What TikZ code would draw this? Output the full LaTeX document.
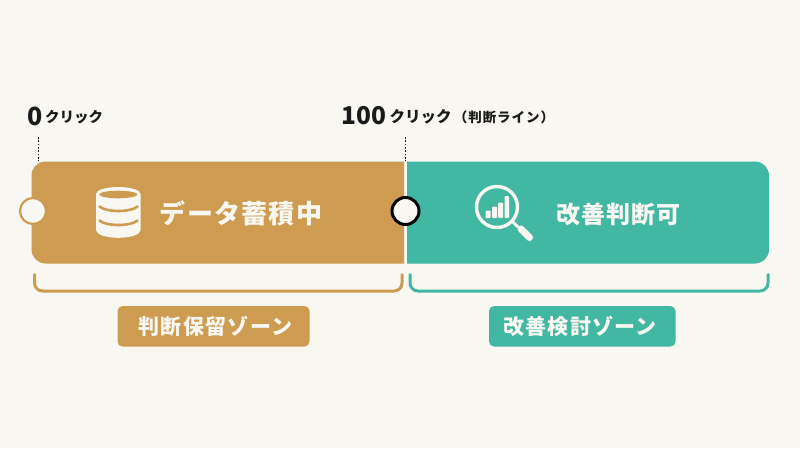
\documentclass[tikz,border=0pt]{standalone}
\usepackage{fontspec}
\setmainfont{Noto Sans CJK JP}
\definecolor{bgc}{HTML}{F9F7F2}
\definecolor{goldc}{HTML}{CD9C50}
\definecolor{tealc}{HTML}{42B8A2}
\definecolor{inkc}{HTML}{1A1A1A}
\newcommand{\spaced}[3]{\fontsize{#1}{#1}\selectfont\addfontfeature{LetterSpace=#2}\bfseries #3}
\tikzset{
  x=1pt,y=-1pt,
  bigtext/.style={text=bgc,inner sep=0pt,anchor=center,font=\bfseries},
  ticktext/.style={text=inkc,inner sep=0pt,anchor=west,font=\bfseries},
  zonebox/.style={rounded corners=5pt,inner sep=0pt,minimum height=40.5pt,text=bgc,font=\bfseries},
  dotline/.style={draw=inkc,line width=1.9pt,dash pattern=on 1.7pt off 1.6pt},
  bracket/.style={line width=3pt,line cap=round,rounded corners=8pt},
  knob/.style={circle,fill=bgc,inner sep=0pt}
}
\begin{document}
\begin{tikzpicture}
\useasboundingbox (0,0) rectangle (800,448);
\fill[bgc] (0,0) rectangle (800,448);
% bars
\fill[goldc] (404,161.5) [rounded corners=14pt] -- (31.5,161.5) -- (31.5,263.5) [sharp corners] -- (404,263.5) -- cycle;
\fill[tealc] (407,161.5) [rounded corners=14pt] -- (769,161.5) -- (769,263.5) [sharp corners] -- (407,263.5) -- cycle;
% tick coordinates and dotted lines
\coordinate (t0a) at (38.5,137);
\coordinate (t0b) at (38.5,161);
\coordinate (t1a) at (405.5,137);
\coordinate (t1b) at (405.5,161);
\draw[dotline] (t0a) -- (t0b);
\draw[dotline] (t1a) -- (t1b);
% knobs
\node[knob,draw=goldc,line width=2.2pt,minimum size=26pt] (k0) at (33,211) {};
\node[knob,draw=black,line width=3pt,minimum size=27pt] (k1) at (405.5,211) {};
% tick labels
\node[ticktext] (n0) at (27,116) {\spaced{25}{0}{0}};
\node[ticktext] (c0) at (45,117) {\spaced{14.5}{0}{クリック}};
\node[ticktext] (n1) at (341,116) {\spaced{24.5}{0}{100}};
\node[ticktext] (c1) at (389.5,117) {\spaced{15.5}{0}{クリック}};
\node[ticktext,anchor=center] (c2) at (504,117.5) {\spaced{13.5}{7}{（判断ライン）}};
% main texts
\node[bigtext] (m0) at (241,213.5) {\spaced{26}{5}{データ蓄積中}};
\node[bigtext] (m1) at (618.5,214.5) {\spaced{24}{4}{改善判断可}};
% database icon
\fill[bgc] (96,194) .. controls (96,190) and (106,187) .. (118.3,187)
  .. controls (130.6,187) and (140.6,190) .. (140.6,194)
  -- (140.6,230) .. controls (140.6,234.5) and (130.6,237.8) .. (118.3,237.8)
  .. controls (106,237.8) and (96,234.5) .. (96,230) -- cycle;
\fill[goldc] (118.3,194.5) ellipse[x radius=19,y radius=3.8];
\draw[goldc,line width=2.6pt,line cap=round] (99.5,206.5) .. controls (106,212.5) and (131,212.5) .. (137.5,206.5);
\draw[goldc,line width=2.6pt,line cap=round] (99.5,220.5) .. controls (106,226.5) and (131,226.5) .. (137.5,220.5);
% magnifier icon
\draw[bgc,line width=3.4pt] (497,207) circle[radius=20.5];
\draw[bgc,line width=3pt] (512,221) -- (518,227);
\draw[bgc,line width=7pt,line cap=round] (521,229) -- (529.5,237.5);
\fill[bgc,rounded corners=0.8pt] (485.7,210.7) rectangle (490.7,218);
\fill[bgc,rounded corners=0.8pt] (492,206.7) rectangle (497,218);
\fill[bgc,rounded corners=0.8pt] (498.2,202.7) rectangle (503,218);
\fill[bgc,rounded corners=0.8pt] (504.5,196) rectangle (509,218);
% brackets
\coordinate (b0a) at (34.5,274.5); \coordinate (b0b) at (402,274.5);
\coordinate (b1a) at (410,274.5); \coordinate (b1b) at (768,274.5);
\draw[goldc,bracket] (b0a) |- (218,291) -| (b0b);
\draw[tealc,bracket] (b1a) |- (589,291) -| (b1b);
% zone labels
\node[zonebox,fill=goldc,minimum width=192pt] (z0) at (213.5,326.3) {};
\node[zonebox,fill=tealc,minimum width=186.5pt] (z1) at (582.3,326.3) {};
\node[bigtext] at (215.5,326.5) {\spaced{21}{7}{判断保留ゾーン}};
\node[bigtext] at (580,326.5) {\spaced{21}{5}{改善検討ゾーン}};
\end{tikzpicture}
\end{document}
